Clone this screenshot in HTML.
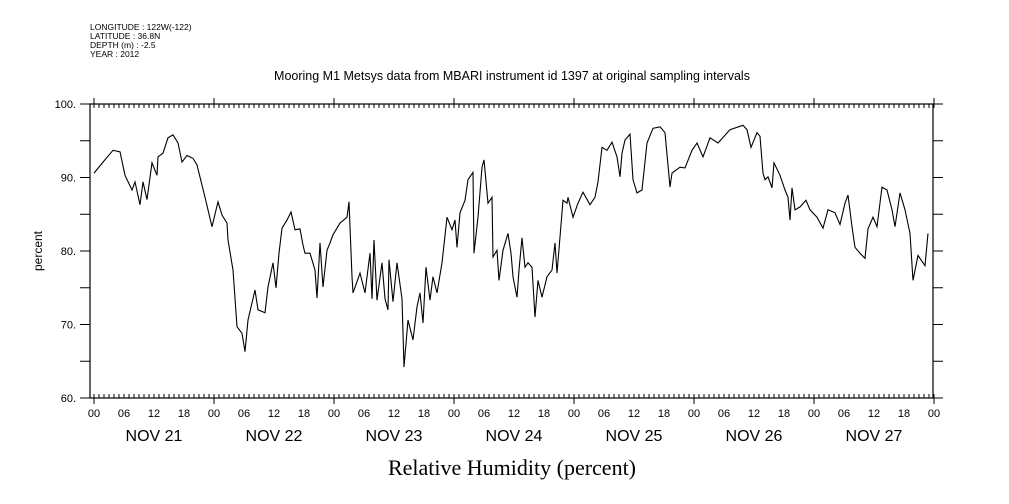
<!DOCTYPE html>
<html><head><meta charset="utf-8"><style>
html,body{margin:0;padding:0;background:#fff}
svg{display:block}
text{font-family:"Liberation Sans",sans-serif;fill:#000}
</style></head><body>
<svg id="chart" width="1009" height="504" viewBox="0 0 1009 504" xmlns="http://www.w3.org/2000/svg">
<g font-size="8.5">
<text x="90" y="30">LONGITUDE : 122W(-122)</text>
<text x="90" y="39">LATITUDE : 36.8N</text>
<text x="90" y="48">DEPTH (m) : -2.5</text>
<text x="90" y="57">YEAR : 2012</text>
</g>
<text x="512" y="80" text-anchor="middle" font-size="12.5">Mooring M1 Metsys data from MBARI instrument id 1397 at original sampling intervals</text>
<text transform="translate(42,251) rotate(-90)" text-anchor="middle" font-size="12">percent</text>
<text x="512" y="475" text-anchor="middle" font-size="22" style="font-family:'Liberation Serif',serif">Relative Humidity (percent)</text>
<g id="axes"></g>
<g id="marks"></g>
</svg>
<script>
const hoursData = [0,1.8,3.8,5.2,6.2,7.6,8.2,9.2,9.8,10.6,11.6,12.6,12.8,13.8,14.8,15.8,16.8,17.6,18.6,19.8,20.6,22.2,23.6,24.8,25.6,26.6,26.8,27.8,28.6,29.6,30.2,30.8,32.2,32.8,34.2,34.8,35.8,36.4,37,37.6,38.6,39.4,40.2,41.2,41.8,42.2,43.2,44.2,44.6,45.2,45.8,46.6,47.2,47.8,49.2,50.6,51,51.6,51.8,53.2,54.2,55.2,55.6,56,56.6,57.6,58.2,58.8,59,59.8,60.6,61.6,62,62.8,63.8,64.6,65.2,65.8,66.4,67.2,67.8,68.6,69.6,70.6,71.6,72.2,72.6,73.2,74.2,74.8,75.8,76,76.8,77.6,78,78.8,79.6,79.8,80.6,81,81.8,82.8,83.4,83.8,84.6,85,85.6,86.2,86.8,87.6,88.2,88.8,89.6,90.6,91.6,92.2,92.6,93.2,93.8,94.6,94.8,95.8,96.8,97.8,99.2,100.2,100.8,101.6,102.6,103.6,104.6,105.2,105.6,106.2,107.2,107.8,108.6,109.6,110.6,111.8,113.2,114.2,115.2,115.6,117.2,118.2,119.6,120.6,121.8,123.2,124.8,126.8,127.2,129.8,130.6,131.4,132.6,133.2,133.8,134.2,134.8,135.6,136,137.2,138.2,138.8,139.2,139.6,140.2,141.2,142.4,143.2,144.6,145.8,146.8,148.2,149.2,150.2,150.8,151.6,152.2,153.2,154.2,154.8,155.8,156.6,157.6,158.6,159.6,160.2,161.2,162.2,163.2,163.8,164.8,165.6,166.2,166.8];
const humidityValues = [90.6,92.1,93.7,93.5,90.3,88.3,89.4,86.3,89.4,87.0,92.0,90.3,92.8,93.3,95.4,95.8,94.7,92.1,93.0,92.6,91.7,87.3,83.3,86.7,84.9,83.8,81.5,77.4,69.7,68.8,66.3,70.6,74.7,72.0,71.6,75.1,78.4,75.0,79.7,83.1,84.2,85.3,82.9,83.0,80.8,79.7,79.7,77.4,73.6,81.1,75.1,80.1,81.1,82.2,83.8,84.6,86.7,76.5,74.3,77.0,74.3,79.7,73.5,81.5,73.3,78.4,73.5,72.0,78.8,73.1,78.4,73.5,64.2,70.6,67.9,72.4,74.3,70.2,77.8,73.3,76.5,74.3,78.4,84.6,82.9,84.2,80.5,85.2,86.9,89.7,90.7,79.7,84.6,91.4,92.4,86.5,87.3,79.2,80.1,76.0,80.1,82.4,79.7,76.5,73.7,77.4,81.8,77.8,78.4,77.8,71.0,76.0,73.7,76.5,77.4,81.1,77.0,81.9,86.9,86.5,87.3,84.6,86.5,88.0,86.3,87.3,89.4,94.1,93.7,94.8,92.8,90.1,93.3,95.1,95.9,89.7,87.9,88.3,94.7,96.7,96.9,96.1,88.7,90.6,91.4,91.3,93.7,94.7,92.8,95.4,94.7,96.2,96.5,97.1,96.5,94.1,96.1,95.6,90.6,89.7,90.1,88.6,92.0,90.3,88.3,87.3,84.2,88.6,85.6,86.0,86.9,85.6,84.6,83.1,85.6,85.2,83.6,86.5,87.6,83.3,80.5,79.7,79.0,83.0,84.6,83.3,88.7,88.3,85.6,83.3,87.9,85.6,82.4,76.0,79.4,78.6,78.0,82.4];
const yTickValues = [60,70,80,90,100];
const yTickLabels = ["60.","70.","80.","90.","100."];
const hourLabels = ["00","06","12","18"];
const dayLabels = ["NOV 21","NOV 22","NOV 23","NOV 24","NOV 25","NOV 26","NOV 27"];

const NS="http://www.w3.org/2000/svg";
const L=90,R=933,T=104,B=398;
function xS(h){return 94+h*5;}
function yS(v){return T+(100-v)*(B-T)/40;}
function mk(tag,attrs,parent){const e=document.createElementNS(NS,tag);for(const k in attrs)e.setAttribute(k,attrs[k]);parent.appendChild(e);return e;}
const ax=document.getElementById('axes');
let frame=mk('rect',{x:L,y:T,width:R-L,height:B-T,fill:'none',stroke:'#000','stroke-width':1.2},ax);


// y ticks every 5
let d='';
for(let v=60;v<=100;v+=5){const y=yS(v);d+=`M${L-10},${y}H${L}M${R},${y}H${R+10}`;}
// x ticks hourly
const nH=dayLabels.length*24;
for(let h=0;h<=nH;h++){const x=xS(h);
 if(h%24===0){d+=`M${x},${T-6}V${T+4}M${x},${B-4}V${B+6}`;}
 else{d+=`M${x},${T}V${T+4}M${x},${B}V${B-4}`;}}
let tk=mk('path',{d:d,stroke:'#000','stroke-width':1,fill:'none'},ax);


yTickValues.forEach((v,i)=>{
 const t=mk('text',{x:76,y:yS(v)+4,'text-anchor':'end','font-size':11},ax);
 t.textContent=yTickLabels[i];
 
 
});
for(let h=0;h<=nH;h+=6){
 const t=mk('text',{x:xS(h),y:417,'text-anchor':'middle','font-size':11},ax);
 t.textContent=hourLabels[(h/6)%4];
 
 
}
dayLabels.forEach((s,i)=>{
 const t=mk('text',{x:xS(i*24+12),y:441,'text-anchor':'middle','font-size':16},ax);
 t.textContent=s;
 
 
});
const mg=document.getElementById('marks');
const pts=hoursData.map((h,i)=>xS(h).toFixed(1)+','+yS(humidityValues[i]).toFixed(1)).join(' ');
const line=mk('polyline',{points:pts,fill:'none',stroke:'#000','stroke-width':1.1},mg);


</script>
</body></html>
